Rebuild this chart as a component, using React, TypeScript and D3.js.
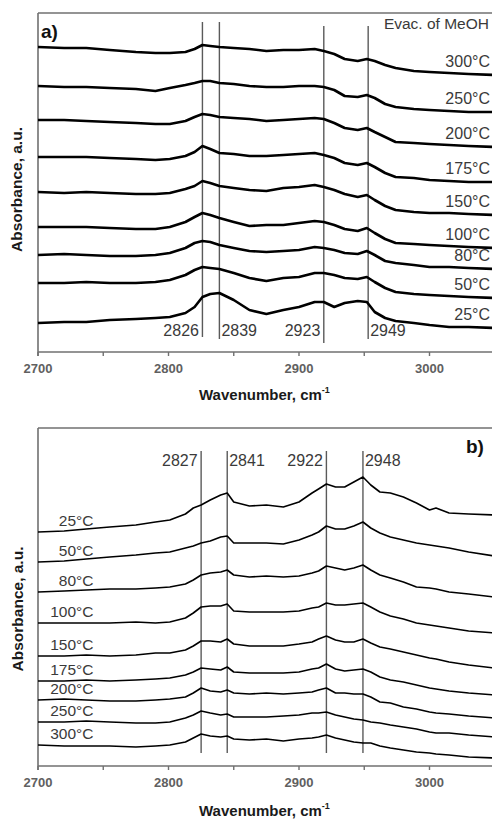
import React from 'react';
import * as d3 from 'd3';

// ---------- DATA ----------
const wavenumbersA = [2700, 2720, 2737, 2755, 2775, 2790, 2801, 2813, 2820, 2826, 2832, 2839, 2850, 2862, 2875, 2888, 2900, 2912, 2919, 2927, 2935, 2945, 2952, 2958, 2966, 2974, 2988, 3000, 3015, 3030, 3050];
const tempsA = ['300°C', '250°C', '200°C', '175°C', '150°C', '100°C', '80°C', '50°C', '25°C'];
const a300 = [305, 304, 304, 302, 300, 299, 299, 300, 303, 307, 306, 305, 304, 303, 301, 302, 302, 303, 301, 298, 293, 291, 293, 291, 287, 284, 281, 280, 279, 278, 277];
const a250 = [266, 265, 265, 264, 263, 261, 264, 267, 269, 271, 271, 269, 268, 266, 265, 265, 266, 266, 265, 262, 256, 255, 257, 254, 248, 245, 243, 242, 241, 240, 240];
const a200 = [232, 232, 231, 230, 229, 228, 228, 231, 235, 238, 237, 235, 234, 233, 231, 232, 233, 234, 233, 229, 224, 222, 224, 220, 215, 210, 209, 208, 207, 206, 205];
const a175 = [195, 195, 195, 194, 193, 192, 193, 196, 200, 206, 203, 199, 198, 196, 196, 197, 198, 199, 197, 194, 189, 187, 189, 185, 179, 175, 174, 172, 171, 170, 170];
const a150 = [160, 159, 160, 159, 158, 158, 159, 163, 166, 171, 169, 166, 164, 162, 161, 164, 165, 167, 165, 162, 158, 155, 157, 152, 146, 142, 140, 139, 139, 138, 137];
const a100 = [125, 125, 125, 124, 123, 123, 125, 130, 135, 139, 137, 134, 130, 126, 127, 127, 129, 131, 130, 127, 123, 121, 124, 119, 113, 109, 108, 107, 106, 105, 104];
const a80 = [97, 98, 97, 96, 96, 97, 99, 104, 109, 111, 110, 107, 104, 101, 100, 101, 102, 105, 104, 102, 99, 98, 101, 97, 91, 89, 87, 85, 85, 84, 83];
const a50 = [69, 69, 70, 69, 69, 70, 72, 77, 82, 85, 84, 83, 79, 74, 71, 74, 75, 79, 79, 77, 74, 73, 75, 70, 64, 60, 58, 57, 56, 55, 54];
const a25 = [29, 30, 30, 32, 33, 34, 35, 39, 45, 55, 58, 59, 52, 42, 38, 42, 45, 50, 50, 45, 49, 51, 50, 40, 34, 31, 29, 27, 25, 25, 24];
const refLinesA = [2826, 2839, 2919, 2953];
const refLabelsA = ['2826', '2839', '2923', '2949'];

const wavenumbersB = [2700, 2720, 2737, 2755, 2775, 2790, 2801, 2813, 2819, 2825, 2832, 2840, 2845, 2850, 2862, 2875, 2888, 2900, 2910, 2915, 2921, 2928, 2935, 2942, 2949, 2955, 2962, 2970, 2980, 2990, 3000, 3005, 3015, 3030, 3050];
const tempsB = ['25°C', '50°C', '80°C', '100°C', '150°C', '175°C', '200°C', '250°C', '300°C'];
const b25 = [234, 235, 237, 239, 241, 244, 246, 252, 258, 261, 266, 271, 273, 264, 260, 261, 259, 264, 273, 277, 282, 279, 279, 284, 289, 281, 274, 273, 269, 263, 256, 258, 253, 252, 251];
const b50 = [204, 205, 207, 209, 211, 213, 214, 218, 220, 223, 225, 229, 230, 223, 223, 223, 222, 226, 231, 234, 240, 237, 237, 240, 244, 238, 233, 229, 226, 223, 221, 220, 218, 214, 210];
const b80 = [174, 175, 176, 177, 177, 178, 179, 182, 186, 191, 193, 194, 196, 191, 189, 190, 189, 190, 193, 195, 200, 198, 196, 198, 201, 196, 191, 188, 184, 179, 178, 177, 174, 172, 169];
const b100 = [143, 143, 143, 143, 144, 143, 144, 148, 153, 159, 160, 160, 162, 155, 154, 154, 154, 155, 158, 159, 163, 161, 161, 162, 163, 159, 154, 150, 147, 143, 141, 140, 138, 135, 133];
const b150 = [110, 110, 111, 110, 111, 113, 113, 116, 120, 125, 125, 124, 127, 122, 120, 120, 120, 122, 124, 127, 130, 126, 124, 124, 127, 123, 119, 117, 114, 111, 108, 107, 104, 101, 98];
const b175 = [85, 85, 86, 85, 86, 87, 88, 91, 94, 98, 97, 96, 99, 94, 93, 93, 93, 94, 97, 98, 102, 97, 95, 96, 97, 94, 89, 86, 84, 81, 78, 77, 75, 73, 71];
const b200 = [66, 67, 66, 65, 65, 66, 67, 69, 73, 78, 75, 74, 76, 73, 72, 73, 72, 73, 74, 76, 78, 73, 73, 72, 72, 69, 64, 63, 59, 57, 54, 53, 52, 50, 48];
const b250 = [44, 44, 45, 44, 43, 43, 44, 48, 51, 55, 53, 51, 52, 49, 49, 49, 50, 51, 53, 53, 54, 51, 49, 47, 46, 44, 43, 41, 39, 37, 34, 33, 33, 31, 29];
const b300 = [21, 20, 20, 20, 19, 20, 21, 24, 28, 32, 30, 29, 30, 27, 26, 27, 25, 27, 28, 29, 31, 28, 26, 24, 23, 23, 20, 18, 16, 14, 13, 12, 11, 9, 8];
const refLinesB = [2825, 2845, 2921, 2949];
const refLabelsB = ['2827', '2841', '2922', '2948'];

const tickValues = [2700, 2750, 2800, 2850, 2900, 2950, 3000, 3050];
const tickLabels = ['2700', '2800', '2900', '3000'];

const seriesA = [a300, a250, a200, a175, a150, a100, a80, a50, a25];
const seriesB = [b25, b50, b80, b100, b150, b175, b200, b250, b300];

// ---------- LAYOUT ----------
const W = 492;
const H = 819;
const FONT = "'Liberation Sans', Arial, sans-serif";

interface PanelProps {
  wns: number[];
  series: number[][];
  temps: string[];
  refLines: number[];
  refLabels: string[];
  top: number;
  bottom: number;
  yMax: number;
  plotTop: number;
  strokeW: number;
  tag: string;
  variant: 'a' | 'b';
}

function Panel(p: PanelProps) {
  const x = d3.scaleLinear().domain([2700, 3050]).range([38, 494.75]);
  const y = d3.scaleLinear().domain([0, p.yMax]).range([p.bottom, p.plotTop]);
  const line = d3
    .line<number>()
    .x((_, i) => x(p.wns[i]))
    .y((d) => y(d))
    .curve(d3.curveLinear);
  const axisColor = '#707070';
  const isA = p.variant === 'a';
  const refTop = isA ? [22, 22, 26, 26] : [451, 451, 451, 451];
  const refBottom = isA ? [337, 339, 343, 339] : [753, 753, 753, 753];
  const refLabelY = isA ? 336 : 466;
  const yLabelCenter = (p.top + p.bottom) / 2 + (isA ? 7 : 12);
  return (
    <g>
      {/* frame */}
      <line x1={38} x2={W} y1={p.top} y2={p.top} stroke={axisColor} strokeWidth={1.4} />
      <line x1={38} x2={38} y1={p.top} y2={p.bottom + 4} stroke={axisColor} strokeWidth={1.6} />
      <line x1={38} x2={W} y1={p.bottom} y2={p.bottom} stroke={axisColor} strokeWidth={1.6} />
      {tickValues.map((t) => (
        <line key={t} x1={x(t)} x2={x(t)} y1={p.bottom} y2={p.bottom + 4} stroke={axisColor} strokeWidth={1.4} />
      ))}
      {tickLabels.map((t) => (
        <text
          key={t}
          x={x(+t)}
          y={p.bottom + 21}
          textAnchor="middle"
          fontFamily={FONT}
          fontSize={13}
          fontWeight="bold"
          fill="#606060"
        >
          {t}
        </text>
      ))}
      {/* reference lines */}
      {p.refLines.map((r, i) => (
        <line
          key={'r' + i}
          x1={x(r)}
          x2={x(r)}
          y1={refTop[i]}
          y2={refBottom[i]}
          stroke="#5a5a5a"
          strokeWidth={1.4}
        />
      ))}
      {p.refLabels.map((lab, i) => (
        <text
          key={'rl' + i}
          x={x(p.refLines[i]) + (i % 2 === 0 ? -3.5 : 2)}
          y={refLabelY}
          textAnchor={i % 2 === 0 ? 'end' : 'start'}
          fontFamily={FONT}
          fontSize={16}
          fill="#3a3a3a"
        >
          {lab}
        </text>
      ))}
      {/* spectra */}
      {p.series.map((s, i) => (
        <path key={'s' + i} d={line(s) || ''} fill="none" stroke="#000" strokeWidth={p.strokeW} strokeLinejoin="round" />
      ))}
      {/* temperature labels */}
      {p.temps.map((t, i) => {
        const s = p.series[i];
        if (isA) {
          return (
            <text key={'t' + i} x={490} y={y(s[s.length - 1]) - 8.5} textAnchor="end" fontFamily={FONT} fontSize={16} fill="#3a3a3a">
              {t}
            </text>
          );
        }
        return (
          <text key={'t' + i} x={93.5} y={y(s[0]) - 6} textAnchor="end" fontFamily={FONT} fontSize={15.5} fill="#3a3a3a">
            {t}
          </text>
        );
      })}
      {/* panel tag */}
      {isA ? (
        <text x={41} y={38} fontFamily={FONT} fontSize={19} fontWeight="bold" fill="#111">
          {p.tag}
        </text>
      ) : (
        <text x={466} y={453} fontFamily={FONT} fontSize={19} fontWeight="bold" fill="#111">
          {p.tag}
        </text>
      )}
      {isA && (
        <text x={489} y={29} textAnchor="end" fontFamily={FONT} fontSize={15.5} fill="#3a3a3a">
          Evac. of MeOH
        </text>
      )}
      {/* axis titles */}
      <text
        transform={`translate(${isA ? 22 : 23},${yLabelCenter}) rotate(-90)`}
        textAnchor="middle"
        fontFamily={FONT}
        fontSize={15.5}
        fontWeight="bold"
        fill="#1a1a1a"
      >
        Absorbance, a.u.
      </text>
      <text x={199} y={p.bottom + (isA ? 48 : 50)} fontFamily={FONT} fontSize={15} fontWeight="bold" fill="#1a1a1a">
        Wavenumber, cm
        <tspan dy={-7} fontSize={9}>
          -1
        </tspan>
      </text>
    </g>
  );
}

export default function App() {
  return (
    <svg
      width={W}
      height={H}
      viewBox={`0 0 ${W} ${H}`}
      style={{ position: 'absolute', left: 0, top: 0, background: '#fff' }}
    >
      <rect x={0} y={0} width={W} height={H} fill="#fff" />
      <Panel
        wns={wavenumbersA}
        series={seriesA}
        temps={tempsA}
        refLines={refLinesA}
        refLabels={refLabelsA}
        top={13}
        bottom={352}
        plotTop={13}
        yMax={339}
        strokeW={2.6}
        tag="a)"
        variant="a"
      />
      <Panel
        wns={wavenumbersB}
        series={seriesB}
        temps={tempsB}
        refLines={refLinesB}
        refLabels={refLabelsB}
        top={428}
        bottom={766}
        plotTop={440}
        yMax={326}
        strokeW={1.6}
        tag="b)"
        variant="b"
      />
    </svg>
  );
}
